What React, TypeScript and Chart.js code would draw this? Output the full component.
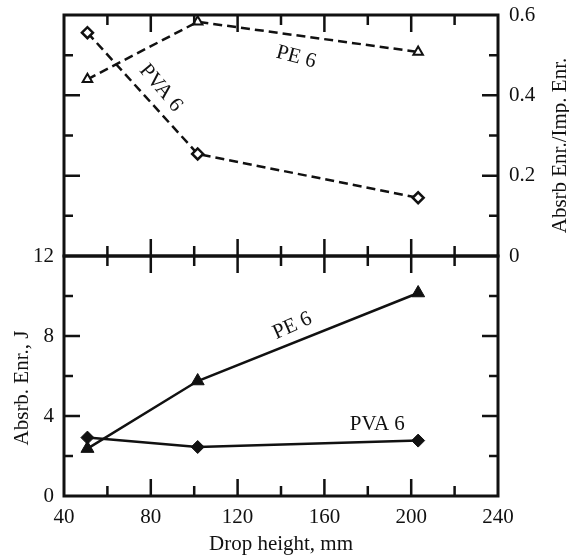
import React, { useEffect, useRef } from "react";
import { Chart, registerables } from "chart.js";

Chart.register(...registerables);

// ---- data ----
const dropHeights = [50.8, 101.6, 203.2];
const pe6Ratio = [0.44, 0.583, 0.508];
const pva6Ratio = [0.556, 0.254, 0.145];
const pe6Energy = [2.37, 5.75, 10.15];
const pva6Energy = [2.92, 2.45, 2.77];
const xTickLabels = ["40", "80", "120", "160", "200", "240"];
const ratioTickLabels = ["0", "0.2", "0.4", "0.6"];
const energyTickLabels = ["0", "4", "8", "12"];

const INK = "#111111";
const FONT = '"Liberation Serif", "Times New Roman", serif';
const FS = 21;

type Ann = { text: string; x: number; y: number; angle: number };
const topAnnotations: Ann[] = [
  { text: "PE 6", x: 147, y: 0.495, angle: 15 },
  { text: "PVA 6", x: 84.6, y: 0.418, angle: 50 },
];
const bottomAnnotations: Ann[] = [
  { text: "PE 6", x: 145.3, y: 8.5, angle: -24 },
  { text: "PVA 6", x: 184.4, y: 3.6, angle: 0 },
];

function pts(xs: number[], ys: number[]) {
  return xs.map((x, i) => ({ x, y: ys[i] }));
}

function framePlugin(yMinor: number, yMajor: number) {
  return {
    id: "frame",
    afterDatasetsDraw(chart: any) {
      const { ctx, chartArea, scales } = chart;
      const { left, right, top, bottom } = chartArea;
      const xs = scales.x;
      const ys = scales.y;
      ctx.save();
      ctx.strokeStyle = INK;
      ctx.lineWidth = 2.5;
      ctx.beginPath();
      const xMinor = 20;
      const xMajor = 40;
      const nx = Math.round((xs.max - xs.min) / xMinor);
      for (let i = 1; i < nx; i++) {
        const v = xs.min + i * xMinor;
        const p = xs.getPixelForValue(v);
        const len = i % (xMajor / xMinor) === 0 ? 17 : 10;
        ctx.moveTo(p, top);
        ctx.lineTo(p, top + len);
        ctx.moveTo(p, bottom);
        ctx.lineTo(p, bottom - len);
      }
      const ny = Math.round((ys.max - ys.min) / yMinor);
      const ratio = Math.round(yMajor / yMinor);
      for (let i = 1; i < ny; i++) {
        const v = ys.min + i * yMinor;
        const p = ys.getPixelForValue(v);
        const len = i % ratio === 0 ? 16 : 9;
        ctx.moveTo(left, p);
        ctx.lineTo(left + len, p);
        ctx.moveTo(right, p);
        ctx.lineTo(right - len, p);
      }
      ctx.stroke();
      ctx.lineWidth = 3;
      ctx.strokeRect(left, top, right - left, bottom - top);
      ctx.restore();
    },
  };
}

function textPlugin(anns: Ann[], titles: { text: string; dx: number; dy: number; angle: number; ref: string }[]) {
  return {
    id: "texts",
    afterDraw(chart: any) {
      const { ctx, chartArea, scales } = chart;
      ctx.save();
      ctx.fillStyle = INK;
      ctx.font = `${FS}px ${FONT}`;
      ctx.textAlign = "center";
      ctx.textBaseline = "middle";
      for (const a of anns) {
        const px = scales.x.getPixelForValue(a.x);
        const py = scales.y.getPixelForValue(a.y);
        ctx.save();
        ctx.translate(px, py);
        ctx.rotate((a.angle * Math.PI) / 180);
        ctx.fillText(a.text, 0, 0);
        ctx.restore();
      }
      const cx = (chartArea.left + chartArea.right) / 2;
      const cy = (chartArea.top + chartArea.bottom) / 2;
      for (const t of titles) {
        let bx = cx;
        let by = cy;
        if (t.ref === "right") bx = chartArea.right;
        if (t.ref === "left") bx = chartArea.left;
        if (t.ref === "bottom") by = chartArea.bottom;
        ctx.save();
        ctx.translate(bx + t.dx, by + t.dy);
        ctx.rotate((t.angle * Math.PI) / 180);
        ctx.fillText(t.text, 0, 0);
        ctx.restore();
      }
      ctx.restore();
    },
  };
}

const tickFont = { family: FONT, size: FS };

function fixSize(w: number | null, h: number | null) {
  return (s: any) => {
    if (w !== null) s.width = w;
    if (h !== null) s.height = h;
    s.paddingTop = 0;
    s.paddingBottom = 0;
    s.paddingLeft = 0;
    s.paddingRight = 0;
  };
}

export default function App() {
  const topRef = useRef<HTMLCanvasElement>(null);
  const botRef = useRef<HTMLCanvasElement>(null);

  useEffect(() => {
    const top = new Chart(topRef.current as HTMLCanvasElement, {
      type: "line",
      data: {
        datasets: [
          {
            label: "PE 6",
            data: pts(dropHeights, pe6Ratio),
            borderColor: INK,
            borderWidth: 2.5,
            borderDash: [9, 5],
            pointStyle: "triangle",
            pointRadius: 5.5,
            pointBackgroundColor: "#ffffff",
            pointBorderColor: INK,
            pointBorderWidth: 2,
            fill: false,
            tension: 0,
            clip: false,
          } as any,
          {
            label: "PVA 6",
            data: pts(dropHeights, pva6Ratio),
            borderColor: INK,
            borderWidth: 2.5,
            borderDash: [9, 5],
            pointStyle: "rectRot",
            pointRadius: 5.5,
            pointBackgroundColor: "#ffffff",
            pointBorderColor: INK,
            pointBorderWidth: 2.5,
            fill: false,
            tension: 0,
            clip: false,
          } as any,
        ],
      },
      options: {
        responsive: false,
        animation: false,
        events: [],
        layout: { padding: { top: 15, left: 64, right: 0, bottom: 24 } },
        plugins: { legend: { display: false }, tooltip: { enabled: false } },
        scales: {
          x: { type: "linear", display: false, min: 40, max: 240 },
          y: {
            type: "linear",
            position: "right",
            min: 0,
            max: 0.6,
            grid: { display: false, drawTicks: false },
            border: { display: false },
            afterFit: fixSize(71, null),
            ticks: {
              stepSize: 0.2,
              padding: 11,
              color: INK,
              font: tickFont,
              callback: (_v: any, i: number) => ratioTickLabels[i] ?? "",
            },
          },
        },
      } as any,
      plugins: [
        framePlugin(0.1, 0.2),
        textPlugin(topAnnotations, [
          { text: "Absrb Enr./Imp. Enr.", dx: 62, dy: 10, angle: -90, ref: "right" },
        ]),
      ],
    });

    const bot = new Chart(botRef.current as HTMLCanvasElement, {
      type: "line",
      data: {
        datasets: [
          {
            label: "PE 6",
            data: pts(dropHeights, pe6Energy),
            borderColor: INK,
            borderWidth: 2.5,
            pointStyle: "triangle",
            pointRadius: 7.5,
            pointBackgroundColor: INK,
            pointBorderColor: INK,
            pointBorderWidth: 1,
            fill: false,
            tension: 0,
            clip: false,
          } as any,
          {
            label: "PVA 6",
            data: pts(dropHeights, pva6Energy),
            borderColor: INK,
            borderWidth: 2.5,
            pointStyle: "rectRot",
            pointRadius: 6.5,
            pointBackgroundColor: INK,
            pointBorderColor: INK,
            pointBorderWidth: 1,
            fill: false,
            tension: 0,
            clip: false,
          } as any,
        ],
      },
      options: {
        responsive: false,
        animation: false,
        events: [],
        layout: { padding: { top: 20, left: 0, right: 71, bottom: 0 } },
        plugins: { legend: { display: false }, tooltip: { enabled: false } },
        scales: {
          x: {
            type: "linear",
            position: "bottom",
            min: 40,
            max: 240,
            grid: { display: false, drawTicks: false },
            border: { display: false },
            afterFit: fixSize(null, 62),
            ticks: {
              stepSize: 40,
              padding: 9,
              maxRotation: 0,
              color: INK,
              font: tickFont,
              callback: (_v: any, i: number) => xTickLabels[i] ?? "",
            },
          },
          y: {
            type: "linear",
            position: "left",
            min: 0,
            max: 12,
            grid: { display: false, drawTicks: false },
            border: { display: false },
            afterFit: fixSize(64, null),
            ticks: {
              stepSize: 4,
              padding: 10,
              color: INK,
              font: tickFont,
              callback: (_v: any, i: number) => energyTickLabels[i] ?? "",
            },
          },
        },
      } as any,
      plugins: [
        framePlugin(2, 4),
        textPlugin(bottomAnnotations, [
          { text: "Absrb. Enr., J", dx: -42, dy: 12, angle: -90, ref: "left" },
          { text: "Drop height, mm", dx: 0, dy: 48, angle: 0, ref: "bottom" },
        ]),
      ],
    });

    return () => {
      top.destroy();
      bot.destroy();
    };
  }, []);

  return (
    <div style={{ position: "absolute", left: 0, top: 0, width: 569, height: 558, background: "#fff" }}>
      <canvas
        ref={topRef}
        width={569}
        height={280}
        style={{ position: "absolute", left: 0, top: 0, width: 569, height: 280 }}
      />
      <canvas
        ref={botRef}
        width={569}
        height={322}
        style={{ position: "absolute", left: 0, top: 236, width: 569, height: 322 }}
      />
    </div>
  );
}
